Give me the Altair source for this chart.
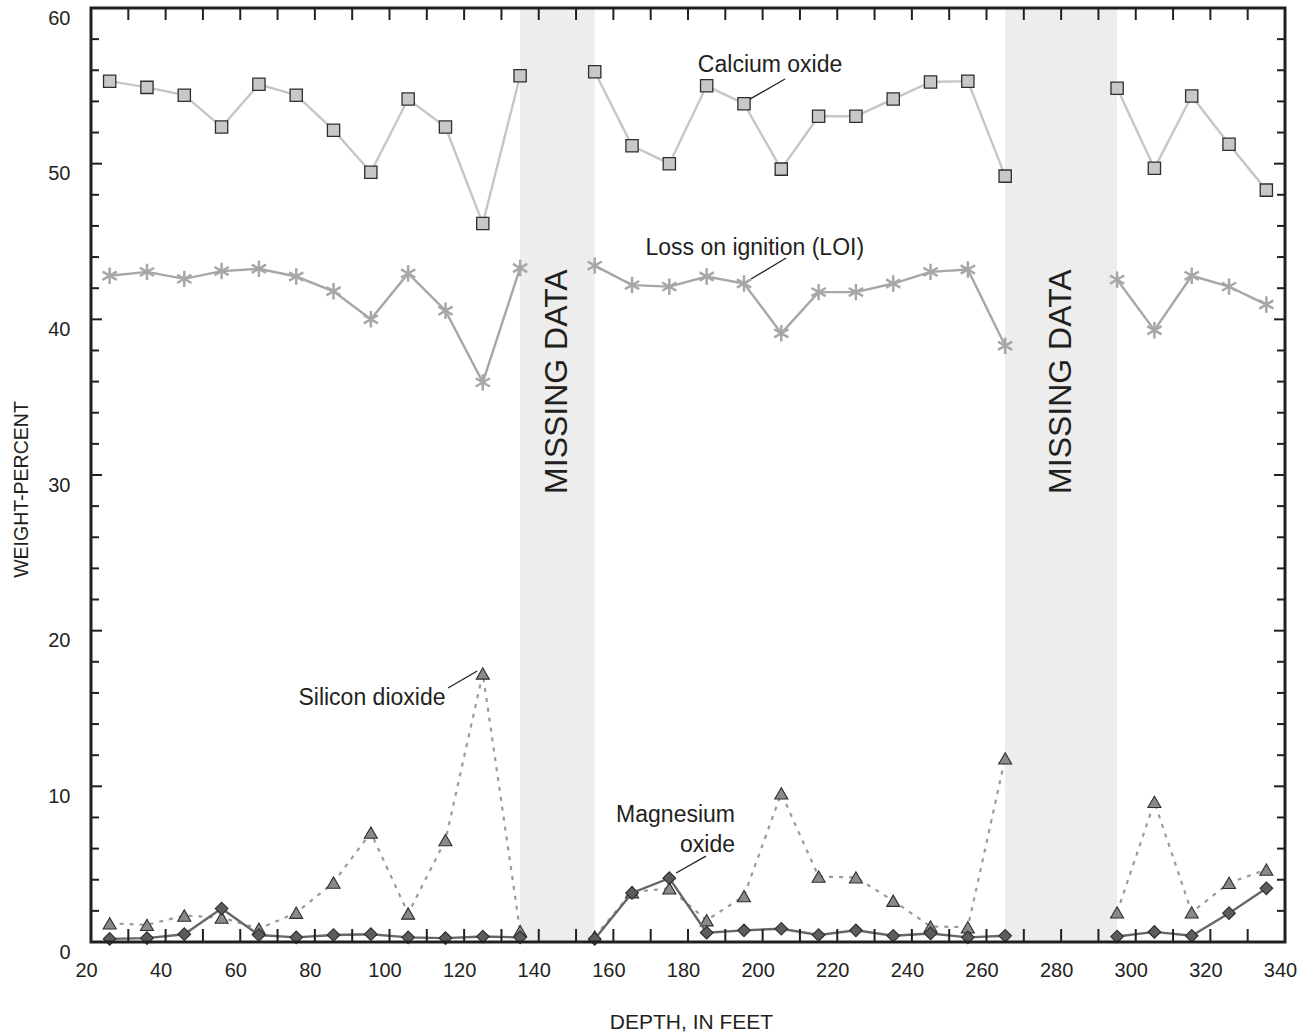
import altair as alt
import pandas as pd

# ---- sample depths (mid-points of 10-ft intervals) and the three continuous runs
depth = [25, 35, 45, 55, 65, 75, 85, 95, 105, 115, 125, 135,
         155, 165, 175, 185, 195, 205, 215, 225, 235, 245, 255, 265,
         295, 305, 315, 325, 335]
run = [1] * 12 + [2] * 12 + [3] * 5

# ---- weight-percent values
calcium_oxide = [55.3, 54.9, 54.4, 52.35, 55.1, 54.4, 52.15, 49.45, 54.15, 52.35, 46.15, 55.65,
                 55.9, 51.15, 50.0, 55.0, 53.85, 49.65, 53.05, 53.05, 54.15, 55.25, 55.3, 49.2,
                 54.85, 49.7, 54.35, 51.25, 48.3]
loss_on_ignition = [42.8, 43.05, 42.6, 43.1, 43.25, 42.75, 41.8, 40.0, 42.95, 40.55, 35.95, 43.3,
                    43.45, 42.2, 42.1, 42.75, 42.3, 39.1, 41.75, 41.75, 42.3, 43.05, 43.2, 38.3,
                    42.55, 39.3, 42.8, 42.1, 40.95]
silicon_dioxide = [1.2, 1.1, 1.7, 1.57, 0.85, 1.88, 3.82, 7.03, 1.83, 6.55, 17.25, 0.7,
                   0.35, 3.2, 3.45, 1.4, 2.95, 9.55, 4.2, 4.15, 2.65, 1.0, 0.95, 11.8,
                   1.9, 9.0, 1.9, 3.8, 4.65]
magnesium_oxide = [0.2, 0.25, 0.5, 2.15, 0.45, 0.3, 0.45, 0.5, 0.3, 0.25, 0.35, 0.3,
                   0.2, 3.15, 4.1, 0.6, 0.75, 0.85, 0.45, 0.75, 0.4, 0.55, 0.3, 0.4,
                   0.35, 0.65, 0.4, 1.85, 3.45]

# ---- intervals without samples
gap_start = [135, 265]
gap_end = [155, 295]
gap_mid = [145, 280]
gap_text = ["MISSING DATA", "MISSING DATA"]
gap_text_y = [36, 36]

# ---- series labels and their leader lines
label_text = ["Calcium oxide", "Loss on ignition (LOI)", "Silicon dioxide"]
label_x = [202.0, 197.9, 95.3]
label_y = [55.87, 44.13, 15.22]
mg_text = ["Magnesium", "oxide"]
mg_x = [192.6, 192.6]
mg_y = [7.73, 5.80]
leader_x = [196.6, 196.9, 115.7, 176.8]
leader_y = [54.15, 42.59, 16.32, 4.43]
leader_x2 = [206.0, 206.3, 123.5, 184.8]
leader_y2 = [55.44, 43.94, 17.41, 5.52]

# ---- axis values
x_labels = list(range(20, 341, 20))
y_labels = list(range(0, 61, 10))
x_minor = list(range(30, 331, 10))
y_minor = [v for v in range(2, 59, 2) if v % 10]
y_major = [10, 20, 30, 40, 50]
X_MIN, X_MAX, Y_MIN, Y_MAX = 20, 340, 0, 60

INK = "#231f20"
FONT = "Liberation Sans"

xs = alt.Scale(domain=[X_MIN, X_MAX], nice=False, zero=False)
ys = alt.Scale(domain=[Y_MIN, Y_MAX], nice=False, zero=False)

x_axis = alt.Axis(values=x_labels, title="DEPTH, IN FEET", grid=False, domain=False,
                  ticks=False, tickSize=0, labelPadding=18, labelFontSize=20,
                  labelFont=FONT, labelColor=INK, labelFlush=False, labelOverlap=False,
                  labelOffset=-5, titleFont=FONT, titleFontSize=21, titleFontWeight="normal",
                  titleColor=INK, titleX=600, titleY=80, titleAlign="center",
                  titleBaseline="middle")
y_axis = alt.Axis(values=y_labels, title="WEIGHT-PERCENT", grid=False, domain=False,
                  ticks=False, tickSize=0, labelPadding=21, labelBaseline="top",
                  labelFontSize=20, labelFont=FONT, labelColor=INK, labelFlush=False,
                  labelOverlap=False, titleFont=FONT, titleFontSize=19.5,
                  titleFontWeight="normal", titleColor=INK, titleX=-70, titleY=481,
                  titleAlign="center", titleBaseline="middle")

df = pd.DataFrame({
    "depth": depth, "run": run,
    "cao": calcium_oxide, "loi": loss_on_ignition,
    "sio2": silicon_dioxide, "mgo": magnesium_oxide,
})
gaps = pd.DataFrame({"x0": gap_start, "x1": gap_end, "xm": gap_mid,
                     "t": gap_text, "ty": gap_text_y, "y0": Y_MIN, "y1": Y_MAX})
labels = pd.DataFrame({"t": label_text, "x": label_x, "y": label_y})
mg_labels = pd.DataFrame({"t": mg_text, "x": mg_x, "y": mg_y})
leaders = pd.DataFrame({"x": leader_x, "y": leader_y, "x2": leader_x2, "y2": leader_y2})

# every layer shares the same scales and axis definitions
X = lambda f: alt.X(f, scale=xs, axis=x_axis)
Y = lambda f: alt.Y(f, scale=ys, axis=y_axis)

# shaded gaps
bands = alt.Chart(gaps).mark_rect(color="#ededed").encode(
    x=X("x0:Q"), x2="x1:Q", y=Y("y0:Q"), y2="y1:Q")
band_text = alt.Chart(gaps).mark_text(
    angle=270, fontSize=32, font=FONT, color=INK, align="center", baseline="middle"
).encode(x=X("xm:Q"), y=Y("ty:Q"), text="t:N")

# calcium oxide
cao_line = alt.Chart(df).mark_line(color="#c6c6c6", strokeWidth=2.4).encode(
    x=X("depth:Q"), y=Y("cao:Q"), detail="run:N")
cao_pts = alt.Chart(df).mark_point(
    shape="square", filled=True, fill="#c8c8c8", stroke="#2e2e2e", strokeWidth=1.3,
    size=150, opacity=1).encode(x=X("depth:Q"), y=Y("cao:Q"))

# loss on ignition
star = "M0,-1L0,1M-0.866,-0.5L0.866,0.5M-0.866,0.5L0.866,-0.5"
loi_line = alt.Chart(df).mark_line(color="#a6a7a9", strokeWidth=2.4).encode(
    x=X("depth:Q"), y=Y("loi:Q"), detail="run:N")
loi_pts = alt.Chart(df).mark_point(
    shape=star, filled=False, color="#a6a7a9", strokeWidth=2.5, size=270, opacity=1
).encode(x=X("depth:Q"), y=Y("loi:Q"))

# silicon dioxide
si_line = alt.Chart(df).mark_line(color="#9a9a9a", strokeWidth=2.2, strokeDash=[4, 6]).encode(
    x=X("depth:Q"), y=Y("sio2:Q"), detail="run:N")
si_pts = alt.Chart(df).mark_point(
    shape="triangle-up", filled=True, fill="#8a8a8a", stroke="#2e2e2e", strokeWidth=1.1,
    size=170, opacity=1).encode(x=X("depth:Q"), y=Y("sio2:Q"))

# magnesium oxide
mg_line = alt.Chart(df).mark_line(color="#676767", strokeWidth=2.4).encode(
    x=X("depth:Q"), y=Y("mgo:Q"), detail="run:N")
mg_pts = alt.Chart(df).mark_point(
    shape="diamond", filled=True, fill="#5c5c5c", stroke="#2b2b2b", strokeWidth=1.1,
    size=160, opacity=1).encode(x=X("depth:Q"), y=Y("mgo:Q"))

# labels
leader = alt.Chart(leaders).mark_rule(color=INK, strokeWidth=1.3).encode(
    x=X("x:Q"), y=Y("y:Q"), x2="x2:Q", y2="y2:Q")
text_c = alt.Chart(labels).mark_text(
    fontSize=23, font=FONT, color=INK, align="center", baseline="alphabetic"
).encode(x=X("x:Q"), y=Y("y:Q"), text="t:N")
text_r = alt.Chart(mg_labels).mark_text(
    fontSize=23, font=FONT, color=INK, align="right", baseline="alphabetic"
).encode(x=X("x:Q"), y=Y("y:Q"), text="t:N")

# inward tick marks on all four sides
tx = pd.DataFrame({"v": x_minor, "lo": Y_MIN, "hi": Y_MAX})
ty_minor = pd.DataFrame({"v": y_minor, "lo": X_MIN, "hi": X_MAX})
ty_major = pd.DataFrame({"v": y_major, "lo": X_MIN, "hi": X_MAX})
tick_style = dict(color=INK, strokeWidth=2)
t_bottom = alt.Chart(tx).mark_rule(y2Offset=-13, **tick_style).encode(
    x=X("v:Q"), y=Y("lo:Q"), y2="lo:Q")
t_top = alt.Chart(tx).mark_rule(y2Offset=12, **tick_style).encode(
    x=X("v:Q"), y=Y("hi:Q"), y2="hi:Q")
t_left = alt.Chart(ty_minor).mark_rule(x2Offset=8, **tick_style).encode(
    y=Y("v:Q"), x=X("lo:Q"), x2="lo:Q")
t_left_major = alt.Chart(ty_major).mark_rule(x2Offset=11, **tick_style).encode(
    y=Y("v:Q"), x=X("lo:Q"), x2="lo:Q")
t_right = alt.Chart(ty_minor).mark_rule(x2Offset=-8, **tick_style).encode(
    y=Y("v:Q"), x=X("hi:Q"), x2="hi:Q")
t_right_major = alt.Chart(ty_major).mark_rule(x2Offset=-11, **tick_style).encode(
    y=Y("v:Q"), x=X("hi:Q"), x2="hi:Q")

frame_df = pd.DataFrame({"x0": [X_MIN], "x1": [X_MAX], "y0": [Y_MIN], "y1": [Y_MAX]})
frame = alt.Chart(frame_df).mark_rect(filled=False, color=INK, strokeWidth=3).encode(
    x=X("x0:Q"), x2="x1:Q", y=Y("y0:Q"), y2="y1:Q")

chart = alt.layer(
    bands, band_text,
    cao_line, cao_pts, loi_line, loi_pts,
    si_line, si_pts, mg_line, mg_pts,
    leader, text_c, text_r,
    t_bottom, t_top, t_left, t_left_major, t_right, t_right_major,
    frame,
).properties(
    width=1194, height=934,
    autosize=alt.AutoSizeParams(type="none"),
    padding={"left": 91, "top": 8, "right": 20, "bottom": 92},
    background="white",
).configure_view(strokeWidth=0)

chart.save("out.html", embed_options={"renderer": "svg", "actions": False})
